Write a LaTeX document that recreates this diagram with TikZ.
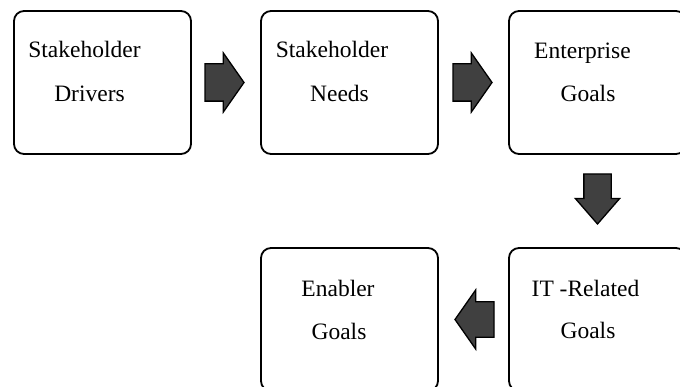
\documentclass[tikz,border=0pt]{standalone}
\usepackage{fontspec}
\setmainfont{Liberation Serif}
\usetikzlibrary{positioning,calc,shapes.arrows}

\definecolor{arrowgray}{RGB}{64,64,64}

\tikzset{goal box/.style={draw, line width=1.8pt, rounded corners=10pt,
        minimum width=177pt, minimum height=143pt, inner sep=0pt, outer sep=0pt},
    goal label/.style={anchor=base, inner sep=0pt, font=\fontsize{23.5}{28}\selectfont},
    block arrow/.style={single arrow, draw, fill=arrowgray, line width=1.3pt,
        inner xsep=0pt, outer sep=0pt, anchor=tail},
    wide arrow/.style={block arrow, minimum height=39pt, inner ysep=18pt,
        single arrow head extend=11pt, single arrow tip angle=110},
    narrow arrow/.style={block arrow, minimum height=50pt, inner ysep=13pt,
        single arrow head extend=8.5pt, single arrow tip angle=82},
}

\begin{document}
\begin{tikzpicture}[x=1pt, y=-1pt]
	\useasboundingbox (0, 0) rectangle (680, 387);

	% boxes
	\node[goal box, anchor=north west] (drivers) at (14, 11) {};
	\node[goal box, right=70pt of drivers] (needs) {};
	\node[goal box, right=71pt of needs] (enterprise) {};
	\node[goal box, below=94pt of enterprise] (itrelated) {};
	\node[goal box, left=71pt of itrelated] (enabler) {};

	% labels
	\node[goal label] at ($(drivers.north west)+(70.5, 47)$) {Stakeholder};
	\node[goal label] at ($(drivers.north west)+(75.5, 91)$) {Drivers};
	\node[goal label] at ($(needs.north west)+(71, 47)$) {Stakeholder};
	\node[goal label] at ($(needs.north west)+(78.5, 91)$) {Needs};
	\node[goal label] at ($(enterprise.north west)+(73.5, 48)$) {Enterprise};
	\node[goal label] at ($(enterprise.north west)+(79, 91)$) {Goals};
	\node[goal label] at ($(itrelated.north west)+(76.5, 49)$) {IT -Related};
	\node[goal label] at ($(itrelated.north west)+(79, 90)$) {Goals};
	\node[goal label] at ($(enabler.north west)+(77, 49)$) {Enabler};
	\node[goal label] at ($(enabler.north west)+(78, 91.5)$) {Goals};

	% arrows, placed by their tails
	\node[wide arrow] (a1) at ($(drivers.east)+(14, 0)$) {};
	\node[wide arrow] (a2) at ($(needs.east)+(15, 0)$) {};
	\node[narrow arrow, rotate=-90] (a3) at ($(enterprise.south)+(0, 20)$) {};
	\node[wide arrow, rotate=180, inner ysep=17pt, single arrow head extend=12pt] (a4) at ($(itrelated.west)+(-15, 0)$) {};
\end{tikzpicture}
\end{document}
